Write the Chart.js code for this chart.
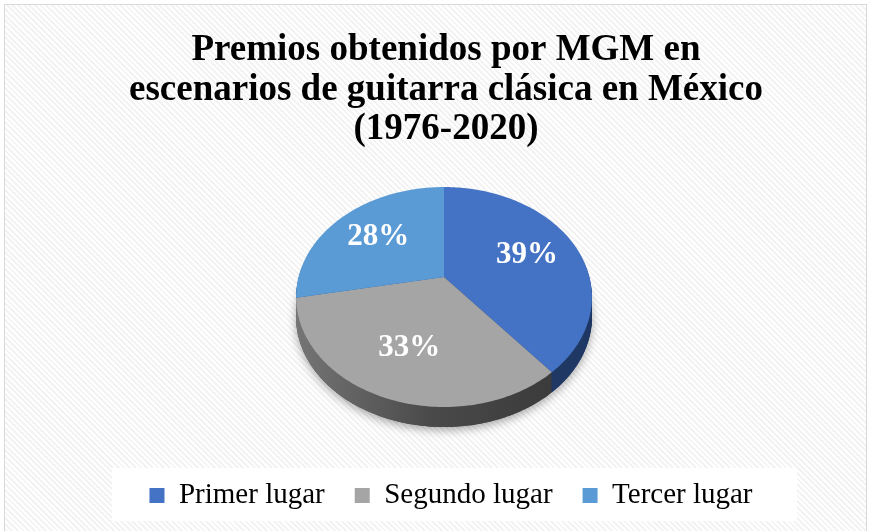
<!DOCTYPE html>
<html>
<head>
<meta charset="utf-8">
<script src="https://cdn.jsdelivr.net/npm/chart.js@4.4.0/dist/chart.umd.min.js"></script>
<style>
  html, body { margin: 0; padding: 0; background: #fff; overflow: hidden; }
  #frame {
    position: absolute; left: 4px; top: 4px; width: 861px; height: 540px;
    border: 1px solid #d9d9d9;
    background: repeating-linear-gradient(45deg, #ffffff 0px, #ffffff 2px, #f3f3f3 2px, #f3f3f3 4px);
  }
  #wrap { position: absolute; left: 0; top: 0; width: 871px; height: 531px; }
</style>
</head>
<body>
<div id="frame"></div>
<div id="wrap"><canvas id="pie"></canvas></div>
<script>
const titleLines = ["Premios obtenidos por MGM en", "escenarios de guitarra clásica en México", "(1976-2020)"];
const categories = ["Primer lugar", "Segundo lugar", "Tercer lugar"];
const percentages = [39, 33, 28];
const topColors = ["#4472C4", "#A5A5A5", "#5B9BD5"];
const sideColors = ["#1f3864", "#474747", "#2e5f8f"];

const SERIF = "'Liberation Serif', 'Times New Roman', serif";
// camera for the tilted disc (perspective like the Excel 3-D pie)
const VIEW = { cy: 277, dist: 5.5, sx: 800, sy: 585 };
const DEPTH = 20;

// map a point of the flat pie (unit radius, x right, z toward viewer) onto the page
function project(a, X, Z, h) {
  return [a.x + VIEW.sx * X / (VIEW.dist - Z), VIEW.cy + VIEW.sy * Z / (VIEW.dist - Z) + h];
}

function sectorPath(ctx, a, h) {
  ctx.beginPath();
  let p = project(a, 0, 0, h);
  ctx.moveTo(p[0], p[1]);
  const n = Math.max(8, Math.ceil((a.endAngle - a.startAngle) / 0.02));
  for (let k = 0; k <= n; k++) {
    const t = a.startAngle + (a.endAngle - a.startAngle) * k / n;
    p = project(a, Math.cos(t), Math.sin(t), h);
    ctx.lineTo(p[0], p[1]);
  }
  ctx.closePath();
}

function sideFill(ctx, i, a) {
  if (i !== 1) return sideColors[i];
  const g = ctx.createLinearGradient(a.x - 150, 0, a.x + 150, 0);
  g.addColorStop(0, "#767676");
  g.addColorStop(0.45, "#4a4a4a");
  g.addColorStop(1, "#363636");
  return g;
}

const pie3d = {
  id: "pie3d",
  afterLayout(chart) {
    // Excel sits the legend a little right of the plot centre
    chart.legend.left += 7;
    chart.legend.right += 7;
  },
  beforeDraw(chart) {
    // white panel behind the legend
    const ctx = chart.ctx;
    ctx.save();
    ctx.fillStyle = "#ffffff";
    ctx.fillRect(112, 468, 685, 53);
    ctx.restore();
  },
  beforeDatasetsDraw(chart) {
    const ctx = chart.ctx, arcs = chart.getDatasetMeta(0).data;
    ctx.save();
    // soft drop shadow under the disc
    ctx.shadowColor = "rgba(0,0,0,0.35)";
    ctx.shadowBlur = 10;
    ctx.shadowOffsetY = 3;
    arcs.forEach((a, i) => {
      sectorPath(ctx, a, DEPTH);
      ctx.fillStyle = sideColors[i];
      ctx.fill();
    });
    ctx.shadowColor = "transparent";
    // side walls
    for (let d = DEPTH; d > 0; d--) {
      arcs.forEach((a, i) => {
        sectorPath(ctx, a, d);
        ctx.fillStyle = sideFill(ctx, i, a);
        ctx.fill();
      });
    }
    // top faces
    arcs.forEach((a) => {
      sectorPath(ctx, a, 0);
      ctx.fillStyle = a.options.backgroundColor;
      ctx.fill();
    });
    // percentage labels
    ctx.fillStyle = "#ffffff";
    ctx.font = "bold 31px " + SERIF;
    ctx.textAlign = "center";
    ctx.textBaseline = "middle";
    arcs.forEach((a, i) => {
      const mid = (a.startAngle + a.endAngle) / 2;
      const p = project(a, Math.cos(mid) * 0.63, Math.sin(mid) * 0.63, 0);
      ctx.fillText(percentages[i] + "%", p[0], p[1]);
    });
    ctx.restore();
    return false;
  },
  afterDraw(chart) {
    const ctx = chart.ctx;
    ctx.save();
    ctx.fillStyle = "#000000";
    ctx.font = "bold 37px " + SERIF;
    ctx.textAlign = "center";
    ctx.textBaseline = "alphabetic";
    titleLines.forEach((t, i) => ctx.fillText(t, 446, 60 + i * 39.5));
    ctx.restore();
  }
};

new Chart(document.getElementById("pie"), {
  type: "pie",
  data: {
    labels: categories,
    datasets: [{
      data: percentages,
      backgroundColor: topColors,
      borderWidth: 0,
      clip: false
    }]
  },
  options: {
    responsive: true,
    maintainAspectRatio: false,
    animation: false,
    events: [],
    layout: { padding: { top: 160, left: 17, right: 0, bottom: 11 } },
    plugins: {
      title: { display: false },
      tooltip: { enabled: false },
      legend: {
        position: "bottom",
        labels: {
          color: "#000000",
          font: { family: SERIF, size: 29 },
          boxWidth: 15,
          boxHeight: 15,
          padding: 30
        }
      }
    }
  },
  plugins: [pie3d]
});
</script>
</body>
</html>
